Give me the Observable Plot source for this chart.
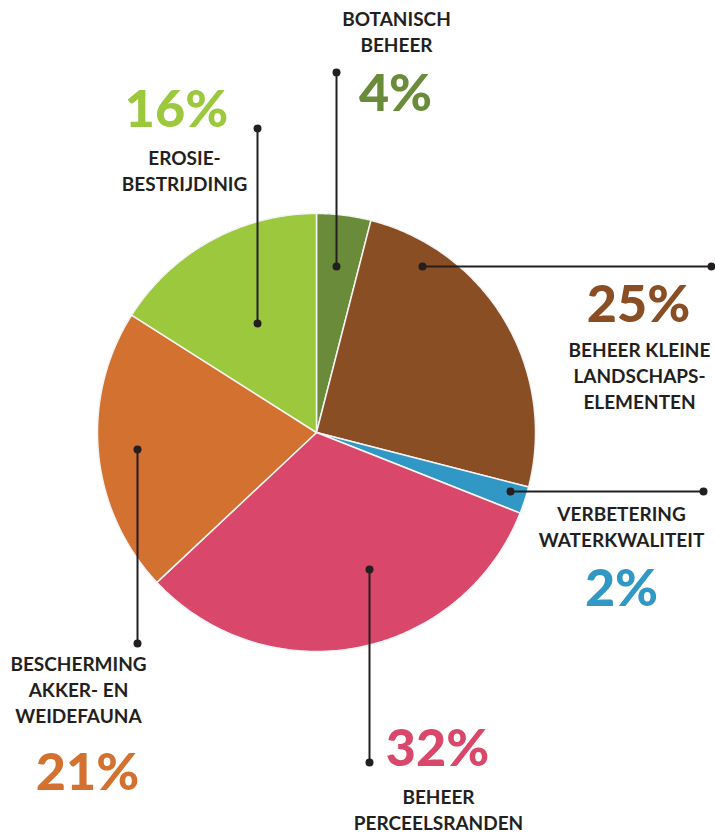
<!DOCTYPE html>
<html><head><meta charset="utf-8">
<script src="https://cdn.jsdelivr.net/npm/d3@7"></script>
<script src="https://cdn.jsdelivr.net/npm/@observablehq/plot@0.6"></script>
<style>html,body{margin:0;padding:0;background:#fff}</style>
</head><body><div id="chart"></div>
<script>
// ---- data ----
const categories = ["Botanisch beheer","Beheer kleine landschapselementen","Verbetering waterkwaliteit","Beheer perceelsranden","Bescherming akker- en weidefauna","Erosiebestrijding"];
const labels = ["BOTANISCH\nBEHEER","BEHEER KLEINE\nLANDSCHAPS-\nELEMENTEN","VERBETERING\nWATERKWALITEIT","BEHEER\nPERCEELSRANDEN","BESCHERMING\nAKKER- EN\nWEIDEFAUNA","EROSIE-\nBESTRIJDINIG"];
const values = [4,25,2,32,21,16];
const colors = ["#6a8c3a","#8a4e24","#3197c4","#d9486a","#d37131","#9bc83d"];

// ---- layout ----
const center = [316,432], radius = 219;
const anchors = [[336,266],[422,266],[510,491],[369,569],[137,449],[257,323]];
const ends = [[336,72],[711,266],[703,491],[369,762],[137,643],[257,128]];
const pctPos = [[395,94],[638,305],[621,589],[437,749],[87,773],[176,110]];
const labelPos = [[396,7],[639,338],[621,502],[438,785],[78,652],[184,146]];

const arcs = d3.pie().sort(null).value(d => d)(values);
const pieRows = arcs.flatMap((a, i) => {
  const pts = [{x: center[0], y: center[1]}];
  const n = Math.max(4, Math.ceil((a.endAngle - a.startAngle) / 0.01));
  for (let k = 0; k <= n; k++) {
    const t = a.startAngle + (a.endAngle - a.startAngle) * k / n;
    pts.push({x: center[0] + radius * Math.sin(t), y: center[1] - radius * Math.cos(t)});
  }
  pts.push({x: center[0], y: center[1]});
  return pts.map(p => ({...p, cat: categories[i]}));
});

const rows = categories.map((c, i) => ({
  cat: c, value: values[i], label: labels[i],
  ax: anchors[i][0], ay: anchors[i][1], ex: ends[i][0], ey: ends[i][1],
  px: pctPos[i][0], py: pctPos[i][1], lx: labelPos[i][0], ly: labelPos[i][1]
}));

const ink = "#231f20";
const chart = Plot.plot({
  width: 715, height: 833, margin: 0,
  x: {domain: [0, 715], axis: null},
  y: {domain: [0, 833], axis: null, reverse: true},
  color: {domain: categories, range: colors},
  style: {fontFamily: "Lato, sans-serif", background: "#fff"},
  marks: [
    Plot.line(pieRows, {x: "x", y: "y", z: "cat", fill: "cat", stroke: "#f4f4f4", strokeWidth: 1.5, strokeLinejoin: "round"}),
    Plot.link(rows, {x1: "ax", y1: "ay", x2: "ex", y2: "ey", stroke: ink, strokeWidth: 2}),
    Plot.dot(rows, {x: "ax", y: "ay", r: 4, fill: ink}),
    Plot.dot(rows, {x: "ex", y: "ey", r: 4, fill: ink}),
    Plot.text(rows, {x: "px", y: "py", text: d => d.value + "%", fill: "cat", fontSize: 52, fontWeight: 900, textAnchor: "middle", lineAnchor: "middle"}),
    Plot.text(rows, {x: "lx", y: "ly", text: "label", fill: ink, fontSize: 19, fontWeight: 700, textAnchor: "middle", lineAnchor: "top", lineHeight: 26/19})
  ]
});
document.getElementById("chart").appendChild(chart);
</script>
</body></html>
